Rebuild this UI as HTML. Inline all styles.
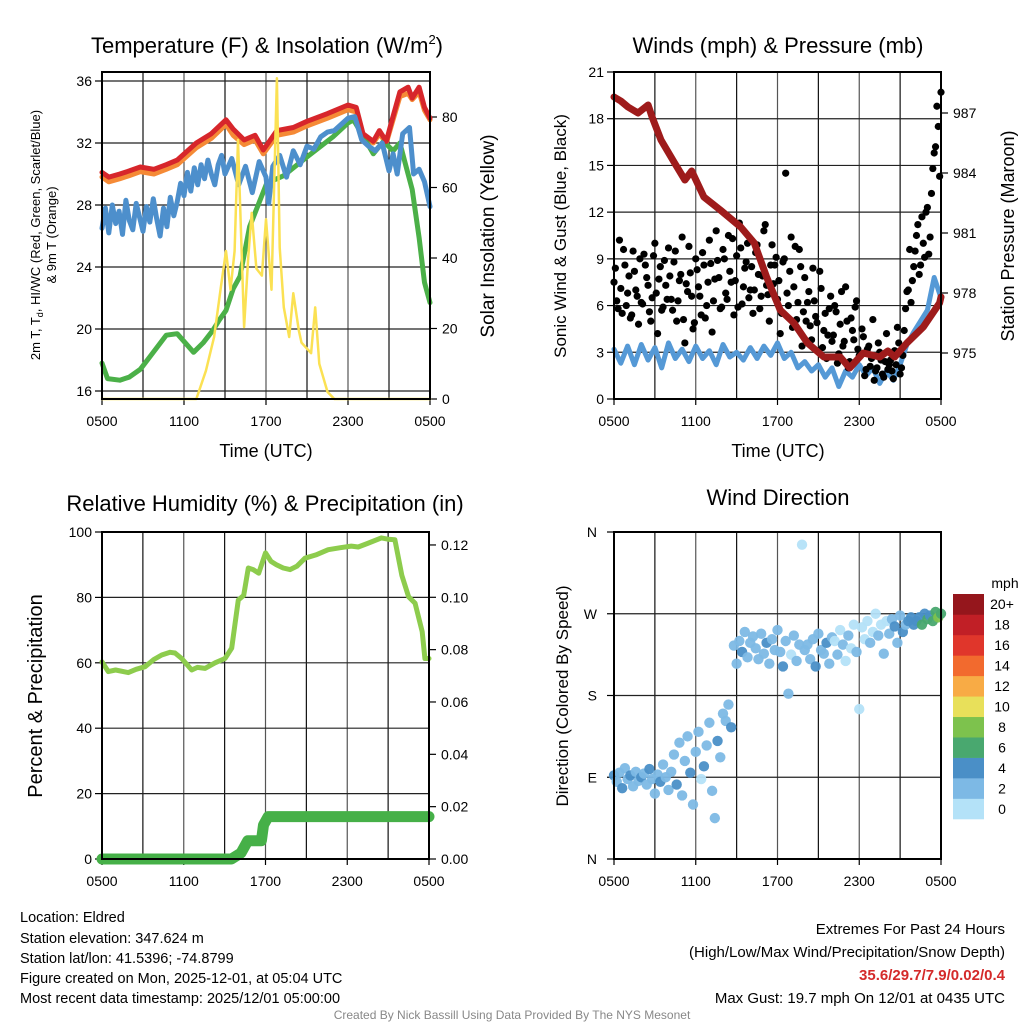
<!DOCTYPE html>
<html><head><meta charset="utf-8"><style>
body{margin:0;background:#fff;}
svg{display:block;font-family:"Liberation Sans",Arial,sans-serif;}
</style></head><body>
<svg id="chart" width="1024" height="1024" viewBox="0 0 1024 1024">
<rect width="1024" height="1024" fill="#fff"/>
<g id="g"></g>
<text x="267" y="53" font-size="22" text-anchor="middle">Temperature (F) &amp; Insolation (W/m<tspan font-size="13" dy="-9">2</tspan><tspan dy="9">)</tspan></text>
<text x="778" y="53" font-size="22" text-anchor="middle">Winds (mph) &amp; Pressure (mb)</text>
<text x="265" y="511" font-size="22" text-anchor="middle">Relative Humidity (%) &amp; Precipitation (in)</text>
<text x="778" y="505" font-size="22" text-anchor="middle">Wind Direction</text>
<text x="266" y="457" font-size="18" text-anchor="middle">Time (UTC)</text>
<text x="778" y="457" font-size="18" text-anchor="middle">Time (UTC)</text>
<text transform="translate(40,235) rotate(-90)" font-size="13" text-anchor="middle">2m T, T<tspan font-size="9" dy="3">d</tspan><tspan dy="-3">, HI/WC (Red, Green, Scarlet/Blue)</tspan></text>
<text transform="translate(56,235) rotate(-90)" font-size="13" text-anchor="middle">&amp; 9m T (Orange)</text>
<text transform="translate(494,236) rotate(-90)" font-size="19" text-anchor="middle">Solar Insolation (Yellow)</text>
<text transform="translate(566,236) rotate(-90)" font-size="17" text-anchor="middle">Sonic Wind &amp; Gust (Blue, Black)</text>
<text transform="translate(1014,236) rotate(-90)" font-size="18" text-anchor="middle">Station Pressure (Maroon)</text>
<text transform="translate(42,696) rotate(-90)" font-size="20" text-anchor="middle">Percent &amp; Precipitation</text>
<text transform="translate(568,696) rotate(-90)" font-size="17" text-anchor="middle">Direction (Colored By Speed)</text>
<g font-size="14.5">
<text x="20" y="922">Location: Eldred</text>
<text x="20" y="943">Station elevation: 347.624 m</text>
<text x="20" y="963">Station lat/lon: 41.5396; -74.8799</text>
<text x="20" y="983">Figure created on Mon, 2025-12-01, at 05:04 UTC</text>
<text x="20" y="1003">Most recent data timestamp: 2025/12/01 05:00:00</text>
</g>
<g font-size="15" text-anchor="end">
<text x="1005" y="934">Extremes For Past 24 Hours</text>
<text x="1005" y="957">(High/Low/Max Wind/Precipitation/Snow Depth)</text>
<text x="1005" y="980" fill="#d42a2a" font-weight="bold">35.6/29.7/7.9/0.02/0.4</text>
<text x="1005" y="1003">Max Gust: 19.7 mph On 12/01 at 0435 UTC</text>
</g>
<text x="512" y="1019" font-size="12" fill="#888" text-anchor="middle">Created By Nick Bassill Using Data Provided By The NYS Mesonet</text>
</svg>
<script>
// ---------- data ----------
const xTickLabels = ["0500","1100","1700","2300","0500"];
const tempTicks = [16,20,24,28,32,36];
const solarTicks = [0,20,40,60,80];
const windTicks = [0,3,6,9,12,15,18,21];
const presTicks = [975,978,981,984,987];
const rhTicks = [0,20,40,60,80,100];
const precipTicks = [0,0.02,0.04,0.06,0.08,0.10,0.12];
const dirTicks = ["N","E","S","W","N"];
const cbLabels = ["0","2","4","6","8","10","12","14","16","18","20+"];
const cbColors = ["#b4e2f8","#7db9e5","#4a8fc7","#49a86f","#7dc24d","#e8e05a","#f8ab45","#f26a2e","#e0362b","#c11f26","#95161c"];

const tempTimes = [0,0.5,1.3,2.0,2.8,3.8,4.7,5.5,6.9,8.0,9.07,9.6,10.4,11.2,11.8,12.8,14.0,15.0,16.5,18.0,18.6,19.1,19.85,20.3,20.8,21.2,21.8,22.4,22.7,23.2,23.6,24];
const redTemp =    [30.1,29.8,30.0,30.2,30.45,30.3,30.6,30.9,32.0,32.6,33.5,32.9,32.2,32.5,31.55,32.8,33.0,33.4,33.9,34.45,34.3,32.6,32.1,32.8,32.1,33.4,35.3,35.6,34.9,35.6,34.3,33.6];
const orangeTemp = [29.8,29.5,29.7,29.9,30.15,30.0,30.3,30.6,31.7,32.3,33.2,32.5,31.9,32.2,31.3,32.5,32.7,33.1,33.6,34.15,34.0,32.4,32.0,32.6,32.0,33.2,35.0,35.2,34.8,35.3,34.1,33.5];
const dewTimes = [0,0.4,1.3,2.0,2.8,3.5,4.7,5.5,6.7,7.4,8.1,8.6,9.07,9.6,10.1,10.8,12.05,13.3,15.0,16.9,18.0,18.4,19.4,19.85,20.6,21.3,21.8,22.3,22.7,23.2,23.6,24];
const dewTemp = [17.8,16.8,16.7,16.9,17.4,18.2,19.6,19.7,18.5,19.1,19.9,20.6,21.2,22.6,23.4,26.6,29.4,29.9,31.1,32.4,33.3,33.5,32.0,31.3,32.1,31.5,32.0,30.3,29.0,25.9,23.0,21.7];
const wcTimes = [0,0.25,0.5,0.75,1,1.25,1.5,1.75,2,2.25,2.5,2.75,3,3.25,3.5,3.75,4,4.25,4.5,4.75,5,5.25,5.5,5.75,6,6.25,6.5,6.75,7,7.25,7.5,7.75,8,8.25,8.5,8.75,9,9.5,10,10.5,11,11.5,12,12.2,12.5,13,13.5,14,14.5,15,15.5,16,16.5,17,17.5,18,18.5,19,19.5,20,20.5,21,21.3,21.6,22,22.5,22.8,23.2,23.6,24];
const wcTemp = [26.5,27.8,26.2,28.0,26.8,27.6,26.1,28.3,27.0,26.4,28.1,27.2,26.3,27.9,26.9,28.4,27.1,26.0,27.8,26.6,28.5,27.3,28.2,29.4,28.6,30.1,28.9,30.4,29.3,30.6,29.7,30.9,30.0,29.3,30.6,31.2,30.0,31.0,29.3,30.5,28.8,30.8,29.8,28.1,30.5,31.2,29.8,31.5,30.6,31.8,31.6,32.4,32.7,32.8,33.2,33.6,33.7,32.2,31.8,31.5,32.0,30.2,31.3,30.0,32.6,33.0,30.0,30.3,29.5,27.9];
const solarTimes = [0,6.9,7.6,8.2,8.7,9.07,9.4,9.7,9.95,10.4,10.7,10.95,11.3,11.7,12.0,12.4,12.8,13.0,13.3,13.7,14.0,14.4,14.6,15.3,15.6,15.9,16.5,17.0,24];
const solarVals = [0,0,8,17.6,31.8,42,31,42,73.5,20.4,40,52.8,37,35,51,31,91,43,26,17.6,30,19.5,16,13,26,10,2,0,0];

const presTimes = [0,0.5,1.03,1.76,2.5,2.8,3.45,4.45,5.2,5.7,6.6,7.8,9.3,10.3,11.2,12.2,13.2,14.2,15.4,16.6,17.3,18.3,19.5,20.1,20.6,21.5,22.7,23.9,24];
const presVals = [987.8,987.6,987.3,987.0,987.4,986.8,985.65,984.5,983.65,984.1,982.8,982.15,981.3,980.5,978.8,977.15,976.5,975.5,974.8,974.8,974.25,975.0,974.8,975.1,974.8,975.5,976.3,977.5,977.8];
const sonicVals = [3.2,2.3,3.4,2.2,3.5,2.5,3.3,2.0,3.6,2.6,3.2,2.4,3.4,2.6,3.1,2.2,3.5,2.7,3.0,2.5,3.3,2.6,3.4,2.8,3.6,2.6,3.0,2.0,2.4,1.8,2.2,1.4,2.0,0.8,1.8,1.4,2.2,1.5,2.0,1.0,1.8,1.2,2.2,3.5,4.3,5.0,5.7,7.8,6.5];
const gustValsA = [7.5,6.3,10.2,5.5,8.6,6.8,5.2,9.5,7.0,4.8,6.2,
 9.3,7.8,5.6,6.5,10.0,4.2,8.5,5.9,7.3,9.7,
 6.4,8.8,5.0,7.6,10.4,3.6,6.9,8.1,4.5,9.0,
 7.2,5.4,8.6,6.0,10.2,4.3,7.7,8.9,5.8,9.6,
 6.8,10.5,7.5,5.4,9.2,11.3,6.1,8.4,10.0,7.0,
 5.5,9.4,8.0,6.6,10.8,7.3,5.0,9.9,8.6,6.4,
 4.2,8.8,14.5,6.0,10.4,7.2,5.1,9.6,3.4,7.8,
 6.2,4.7,8.4,5.3,3.1,7.1,4.4,2.6,5.8,3.7,
 6.0,2.3,4.8,3.4,7.2,2.0,5.2,3.8,6.3,2.8,
 4.5,1.5,3.2,2.1,5.1,1.8,3.6,2.5,1.4,4.2,
 2.2,1.8,3.1,4.6,1.6,2.8,5.8,7.0,6.2,8.5,
 10.5,8.0,11.7,9.1,12.3,10.4,14.8,16.2,17.5,19.7];
const gustValsB = [8.4,5.8,7.1,9.6,6.0,7.9,5.4,8.2,6.6,9.0,
 6.1,8.6,7.3,5.0,9.2,6.8,7.7,5.7,8.9,6.4,
 7.9,5.7,9.5,6.3,8.0,5.1,7.4,9.8,6.6,4.9,
 8.3,6.6,9.4,5.2,7.5,8.7,6.3,10.8,7.8,5.9,
 9.0,6.4,8.2,10.3,7.6,5.9,9.7,7.2,8.8,6.5,
 8.5,7.0,9.9,5.8,7.9,11.2,6.7,8.6,7.4,9.1,
 7.6,5.5,9.0,6.8,8.2,4.6,9.8,6.2,8.5,5.6,
 5.0,6.9,3.8,6.3,4.9,8.2,3.3,5.5,4.1,6.6,
 4.1,5.6,2.9,6.9,3.7,5.0,2.4,4.4,5.9,3.2,
 2.9,4.0,1.9,3.4,2.6,1.2,2.0,3.0,1.6,2.4,
 1.9,2.5,1.3,2.2,3.6,2.0,4.4,6.9,9.6,7.6,
 9.5,11.2,8.6,10.0,12.0,9.3,13.2,15.8,18.8,14.3];

const rhTimes = [0,0.46,1.0,1.93,2.5,3.16,3.8,4.38,5.0,5.36,5.85,6.58,7.0,7.56,8.3,9.03,9.52,10.0,10.4,10.74,11.1,11.5,12.0,12.4,12.8,13.3,13.8,14.3,14.9,15.7,16.6,17.5,18.3,18.8,19.5,20.5,21.0,21.5,22.0,22.5,22.98,23.5,23.7,24];
const rhVals = [60.3,57.3,57.8,57.0,58.0,58.8,61.0,62.4,63.2,63.0,61.3,57.8,58.6,58.3,60.0,61.3,64.5,79.2,80.6,89.0,88.5,87.4,93.6,91.0,90.0,89.0,88.5,89.5,92.0,93.0,94.6,95.2,95.7,95.4,96.5,98.2,97.8,97.6,86.8,80.2,78.2,69.5,61.3,61.3];
const precipTimes = [0,9.5,10.2,10.7,11.7,11.85,12.2,24];
const precipVals = [0,0,0.0023,0.007,0.007,0.013,0.0162,0.0162];

const dirVals = [92,85,95,78,100,88,92,80,96,86,90,
 94,82,99,88,72,93,85,104,90,76,
 96,115,82,128,70,108,135,95,60,118,
 140,88,102,125,150,75,45,130,112,160,
 152,170,145,235,215,240,228,250,222,238,
 245,232,220,248,226,238,215,242,230,252,
 228,212,240,182,225,246,218,236,346,230,
 236,220,242,212,248,230,226,238,215,244,
 240,225,252,236,218,246,232,258,228,165,
 255,242,262,238,250,270,246,258,226,262,
 248,264,256,238,268,250,258,262,266,258,
 262,266,258,270,264,268,262,272,266,270];
const dirSpeeds = [4.5,2.5,2.5,4.5,2.5,2.5,4.5,2.5,2.5,2.5,4.5,
 2.5,2.5,4.5,2.5,2.5,2.5,4.5,2.5,2.5,2.5,
 2.5,2.5,4.5,2.5,2.5,2.5,2.5,4.5,2.5,2.5,
 2.5,1.0,4.5,2.5,2.5,2.5,2.5,4.5,2.5,2.5,
 2.5,2.5,4.5,2.5,2.5,2.5,4.5,2.5,2.5,2.5,
 2.5,2.5,2.5,2.5,2.5,4.5,2.5,2.5,2.5,2.5,
 2.5,4.5,2.5,2.5,1.0,2.5,2.5,2.5,1.0,2.5,
 2.5,2.5,2.5,4.5,2.5,2.5,2.5,4.5,2.5,2.5,
 1.0,2.5,1.0,2.5,1.0,2.5,1.0,1.0,2.5,1.0,
 1.0,1.0,1.0,2.5,1.0,1.0,2.5,1.0,2.5,1.0,
 2.5,2.5,4.5,2.5,2.5,4.5,2.5,4.5,4.5,4.5,
 4.5,4.5,6.5,4.5,6.5,4.5,6.5,6.5,8.5,6.5];

// ---------- helpers ----------
const NS="http://www.w3.org/2000/svg";
const G=document.getElementById('g');
function mk(tag,attrs,parent){const e=document.createElementNS(NS,tag);for(const k in attrs)e.setAttribute(k,attrs[k]);(parent||G).appendChild(e);return e;}
const P1={L:102,R:430,T:72,B:399}, P2={L:614,R:941,T:72,B:399}, P3={L:102,R:429,T:532,B:859}, P4={L:614,R:941,T:532,B:859};
function xs(p,t){return p.L+t*(p.R-p.L)/24;}
const yTemp=v=>391-(v-16)*15.5;
const ySolar=v=>399-v*3.525;
const yWind=v=>399-v*327/21;
const yPres=v=>353-(v-975)*20;
const yRH=v=>859-v*3.27;
const yPrec=v=>859-v*2617;
const yDir=d=>859-d*327/360;

function frame(p,name,hLines){
  for(let i=1;i<8;i++){const x=xs(p,i*3);
    const l=mk('line',{x1:x,x2:x,y1:p.T,y2:p.B,stroke:i%2?'#111':'#555','stroke-width':1.2});
    
    }
  hLines.forEach(y=>{const l=mk('line',{x1:p.L,x2:p.R,y1:y,y2:y,stroke:'#222','stroke-width':1.2});
    
    });
  xTickLabels.forEach((s,i)=>{const x=xs(p,i*6);
    const t=mk('text',{x:x,y:p.B+27,'font-size':14,'text-anchor':'middle'});t.textContent=s;
    
    
    mk('line',{x1:x,x2:x,y1:p.B,y2:p.B+6,stroke:'#000','stroke-width':1.2});});
}
function border(p,name){const r=mk('rect',{x:p.L,y:p.T,width:p.R-p.L,height:p.B-p.T,fill:'none',stroke:'#000','stroke-width':2});
  
  }
function leftTicks(p,vals,fy,name,fmt){vals.forEach(v=>{const y=fy(v);
  mk('line',{x1:p.L-7,x2:p.L,y1:y,y2:y,stroke:'#000','stroke-width':1.2});
  const t=mk('text',{x:p.L-10,y:y+5,'font-size':14,'text-anchor':'end'});t.textContent=fmt?fmt(v):v;
  
  });}
function rightTicks(p,vals,fy,name,fmt){vals.forEach(v=>{const y=fy(v);
  mk('line',{x1:p.R,x2:p.R+7,y1:y,y2:y,stroke:'#000','stroke-width':1.2});
  const t=mk('text',{x:p.R+12,y:y+5,'font-size':14,'text-anchor':'start'});t.textContent=fmt?fmt(v):v;
  
  });}
function line(p,times,vals,fy,color,w,name){
  const pts=times.map((t,i)=>xs(p,t).toFixed(1)+','+fy(vals[i]).toFixed(1)).join(' ');
  const l=mk('polyline',{points:pts,fill:'none',stroke:color,'stroke-width':w,'stroke-linejoin':'round','stroke-linecap':'round'});
  
  return l;}

// ---------- panel 1 ----------
frame(P1,'temperature',tempTicks.map(yTemp));
leftTicks(P1,tempTicks,yTemp,'temperature-y');
rightTicks(P1,solarTicks,ySolar,'insolation-y');
line(P1,tempTimes,orangeTemp,yTemp,'#f58a36',5,'temperature-9m-line');
line(P1,dewTimes,dewTemp,yTemp,'#4bb048',5,'dewpoint-line');
line(P1,tempTimes,redTemp,yTemp,'#d7262b',5,'temperature-2m-line');
line(P1,wcTimes,wcTemp,yTemp,'#4d8fcc',5,'windchill-line');
line(P1,solarTimes,solarVals,ySolar,'#fbe153',2.5,'insolation-line');
border(P1,'temperature');

// ---------- panel 2 ----------
frame(P2,'winds',windTicks.slice(1,7).map(yWind));
leftTicks(P2,windTicks,yWind,'wind-y');
rightTicks(P2,presTicks,yPres,'pressure-y');
line(P2,sonicVals.map((v,i)=>i*0.5),sonicVals,yWind,'#5599d6',5,'sonic-wind-line');
gustValsA.forEach((v,i)=>{const c=mk('circle',{cx:xs(P2,i*0.2),cy:yWind(v),r:3.6,fill:'#000'});
  
  });
gustValsB.forEach((v,i)=>{const c=mk('circle',{cx:xs(P2,0.1+i*0.2),cy:yWind(v),r:3.6,fill:'#000'});
  
  });
line(P2,presTimes,presVals,yPres,'#9e1b1b',7,'pressure-line');
border(P2,'winds');

// ---------- panel 3 ----------
frame(P3,'humidity',[20,40,60,80].map(yRH));
leftTicks(P3,rhTicks,yRH,'humidity-y');
rightTicks(P3,precipTicks,yPrec,'precip-y',v=>v.toFixed(2));
line(P3,precipTimes,precipVals,yPrec,'#46b048',11,'precipitation-line');
line(P3,rhTimes,rhVals,yRH,'#8dcc4d',5,'humidity-line');
border(P3,'humidity');

// ---------- panel 4 ----------
frame(P4,'direction',[90,180,270].map(yDir));
dirTicks.forEach((s,i)=>{const y=yDir(i*90);
  mk('line',{x1:P4.L-7,x2:P4.L,y1:y,y2:y,stroke:'#000','stroke-width':1.2});
  const t=mk('text',{x:P4.L-17,y:y+5,'font-size':14,'text-anchor':'end'});t.textContent=s;
  
  });
dirVals.forEach((d,i)=>{const b=Math.min(10,Math.floor(dirSpeeds[i]/2));
  const c=mk('circle',{cx:xs(P4,i*0.2),cy:yDir(d),r:5.2,fill:cbColors[b],'fill-opacity':0.95});
  
  });
border(P4,'direction');

// colorbar
const cbT=594,cbH=225/11;
cbColors.forEach((c,i)=>{const y=cbT+(10-i)*cbH;
  const r=mk('rect',{x:953,y:y,width:31,height:cbH+0.3,fill:c});
  
  
  const t=mk('text',{x:1002,y:y+cbH/2+5,'font-size':14,'text-anchor':'middle'});t.textContent=cbLabels[i];
  
  });
const mu=mk('text',{x:1005,y:588,'font-size':14,'text-anchor':'middle'});mu.textContent='mph';


</script>
</body></html>
